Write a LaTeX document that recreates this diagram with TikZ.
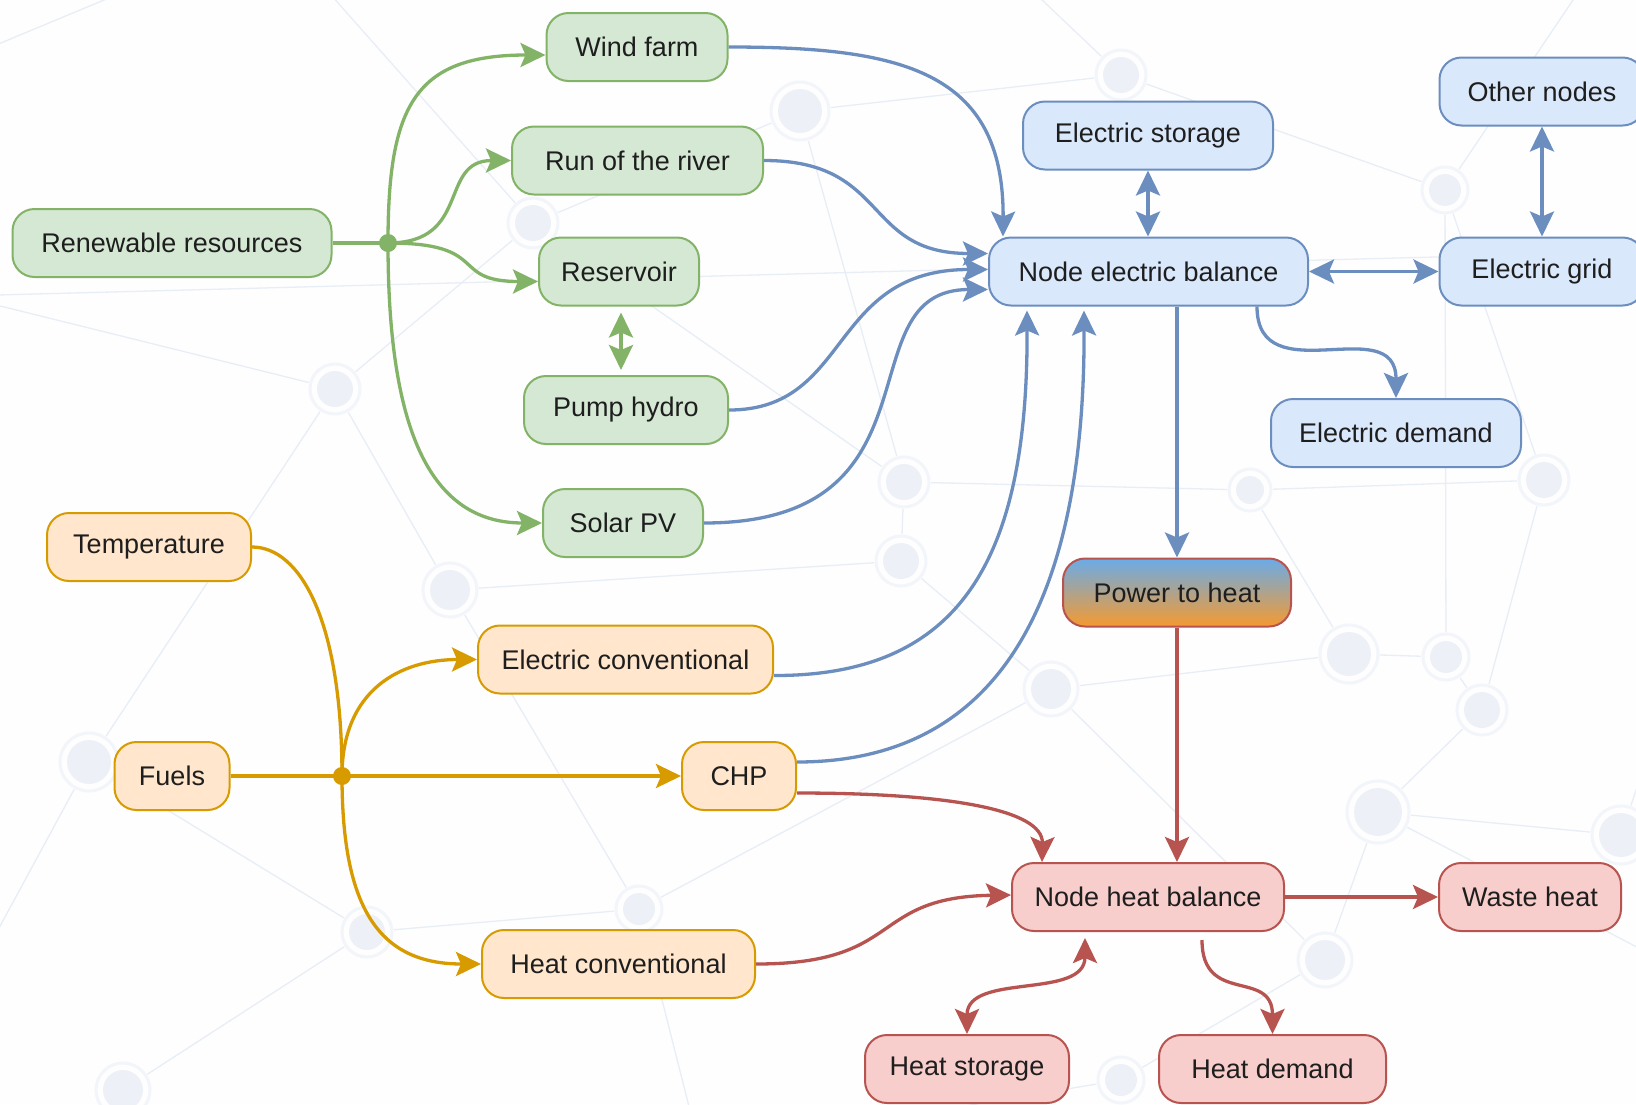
\documentclass[tikz,border=0pt]{standalone}
\usepackage{fontspec}
\setmainfont{Liberation Sans}
\usetikzlibrary{arrows.meta,calc}

\definecolor{gfill}{HTML}{D5E8D4}\definecolor{gline}{HTML}{82B366}
\definecolor{bfill}{HTML}{DAE8FC}\definecolor{bline}{HTML}{6C8EBF}
\definecolor{ofill}{HTML}{FFE6CC}\definecolor{oline}{HTML}{D79B00}
\definecolor{rfill}{HTML}{F8CECC}\definecolor{rline}{HTML}{B85450}
\definecolor{ptop}{HTML}{6AABE8}\definecolor{pbot}{HTML}{F59A30}
\definecolor{netc}{HTML}{E8EEF5}\definecolor{netdot}{HTML}{EDF1F7}\definecolor{netring}{HTML}{F2F5F9}
\definecolor{txt}{HTML}{1E1E1E}

\tikzset{
  box/.style={draw, rounded corners=22pt, minimum height=68pt, line width=2pt,
              inner sep=0pt, text=txt, font=\fontsize{27}{32}\selectfont},
  gbox/.style={box, fill=gfill, draw=gline},
  bbox/.style={box, fill=bfill, draw=bline},
  obox/.style={box, fill=ofill, draw=oline},
  rbox/.style={box, fill=rfill, draw=rline},
  head/.tip={Stealth[length=25pt,width=24pt,inset=5pt]},
  wire/.style={line width=3.3pt},
  flow/.style={wire, -head},
  flowtwo/.style={wire, head-head},
  netline/.style={draw=netc, line width=1.3pt},
}

\begin{document}
\begin{tikzpicture}[x=1pt,y=-1pt]
\clip (0,0) rectangle (1636,1104);
\fill[white!97!netc] (0,0) rectangle (1636,1104);

% faint network in the background
\foreach \n/\x/\y in {a/800/111, b/533/223, c/335/389, d/450/590, e/904/482, f/901/561,
  g/1051/689, h/1349/654, i/1378/812, j/1482/710, k/1446/657, l/1621/835, m/89/762,
  n/367/932, o/639/909, p/1544/480, q/1121/75, r/1445/190, s/1325/960, t/123/1090,
  u/1121/1080, v/1250/490, w/300/-40, x/-40/296, y/1700/250, z/-40/60, A/200/-40,
  B/1700/600, C/700/1150, D/-40/1000, E/1000/-40, F/1700/980, G/1600/-40}
  \coordinate (bg\n) at (\x,\y);
\foreach \p/\q in {z/A, x/y, a/b, b/c, c/d, d/f, f/e, e/a, a/q, q/r, r/p, p/v, v/h,
  h/k, k/j, j/i, i/l, l/B, h/g, g/f, g/o, o/n, n/m, m/c, m/D, n/t, o/C, g/s, s/u, s/i,
  i/F, e/v, q/E, r/G, w/b, d/o, c/x, j/p, u/C, b/e, k/r}
  \path[netline] (bg\p) -- (bg\q);
\foreach \n/\r in {a/22, b/18, c/18, d/20, e/18, f/18, g/20, h/22, i/24, j/18, k/16, l/22,
  m/22, n/18, o/16, p/18, q/18, r/16, s/20, t/20, u/16, v/14} {
  \fill[white!97!netc] (bg\n) circle ({\r pt + 9pt});
  \draw[netring, line width=3pt] (bg\n) circle ({\r pt + 7pt});
  \fill[netdot] (bg\n) circle (\r pt);
}

% renewable sources
\node[gbox, minimum width=319pt] (ren)   at (172,243)   {Renewable resources};
\node[gbox, minimum width=181pt] (wind)  at (637,47)    {Wind farm};
\node[gbox, minimum width=251pt] (run)   at (637.5,160.5) {Run of the river};
\node[gbox, minimum width=160pt] (res)   at (619,271.5) {Reservoir};
\node[gbox, minimum width=204pt] (pump)  at (626,410)   {Pump hydro};
\node[gbox, minimum width=160pt] (solar) at (623,523)   {Solar PV};

% fuel based sources
\node[obox, minimum width=204pt] (temp)  at (149,547)   {Temperature};
\node[obox, minimum width=295pt] (econv) at (625.5,659.5) {Electric conventional};
\node[obox, minimum width=115pt] (fuels) at (172,776)   {Fuels};
\node[obox, minimum width=114pt] (chp)   at (739,776)   {CHP};
\node[obox, minimum width=273pt] (hconv) at (618.5,964) {Heat conventional};

% electricity side
\node[bbox, minimum width=250pt] (estor)  at (1148,135.5) {Electric storage};
\node[bbox, minimum width=205pt] (others) at (1542,91.5)  {Other nodes};
\node[bbox, minimum width=319pt] (neb)    at (1148.5,271.5) {Node electric balance};
\node[bbox, minimum width=205pt] (grid)   at (1542,271.5) {Electric grid};
\node[bbox, minimum width=250pt] (edem)   at (1396,433)   {Electric demand};

% coupling and heat side
\node[box, draw=rline, top color=ptop, bottom color=pbot, minimum width=228pt] (p2h) at (1177,592.5) {Power to heat};
\node[rbox, minimum width=272pt] (nhb)   at (1148,897)   {Node heat balance};
\node[rbox, minimum width=182pt] (waste) at (1530,897)   {Waste heat};
\node[rbox, minimum width=204pt] (hstor) at (967,1069)   {Heat storage};
\node[rbox, minimum width=227pt] (hdem)  at (1272.5,1069) {Heat demand};

% renewable resources branch out
\coordinate (J) at (388,243);
\draw[wire, gline] (ren.east) -- (J);
\draw[flow, gline] (J) .. controls (388,105) and (415,55) .. ([yshift=-8pt]wind.west);
\draw[flow, gline] (J) .. controls (472,243) and (438,160.5) .. (run.west);
\draw[flow, gline] (J) .. controls (492,243) and (448,281.5) .. ([yshift=-10pt]res.west);
\draw[flow, gline] (J) .. controls (388,430) and (430,523) .. (solar.west);
\fill[gline] (J) circle (9pt);
\coordinate (rs) at ([xshift=2pt,yshift=-6pt]res.south);
\coordinate (pn) at ([yshift=5pt]pump.north);
\draw[flowtwo, gline] (rs) -- (rs |- pn);

% into the electric balance
\draw[flow, bline] (wind.east) .. controls (900,47) and (1004,70) .. ([xshift=15pt]neb.north west);
\draw[flow, bline] (run.east) .. controls (890,160.5) and (862,253.5) .. ([yshift=18pt]neb.west);
\draw[flow, bline] (pump.east) .. controls (852,410) and (828,269.5) .. ([yshift=2pt]neb.west);
\draw[flow, bline] (solar.east) .. controls (950,523) and (842,289.5) .. ([yshift=-18pt]neb.west);
\draw[flow, bline] ([yshift=-16pt]econv.east) .. controls (960,676) and (1028,560) .. ([xshift=39pt,yshift=-4pt]neb.south west);
\draw[flow, bline] ([yshift=14pt]chp.east) .. controls (1000,762) and (1085,600) .. ([xshift=96pt,yshift=-4pt]neb.south west);
\draw[flowtwo, bline] (estor.south) -- (estor.south |- neb.north);
\draw[flowtwo, bline] (neb.east) -- (grid.west);
\draw[flowtwo, bline] (others.south) -- (grid.north);
\draw[flow, bline] ([xshift=-52pt]neb.south east) .. controls +(0,88) and +(0,-88) .. (edem.north);
\draw[flow, bline] (neb.south -| p2h.north) -- (p2h.north);

% into the heat balance
\draw[flow, rline] (p2h.south) -- (p2h.south |- nhb.north);
\draw[flow, rline] ([yshift=-17pt]chp.east) .. controls (950,793) and (1043,810) .. ([xshift=31pt]nhb.north west);
\draw[flow, rline] (hconv.east) .. controls (905,964) and (868,897) .. ([yshift=2pt]nhb.west);
\draw[flow, rline] (nhb.east) -- (waste.west);
\draw[flowtwo, rline] ([xshift=-63pt,yshift=-6pt]nhb.south) .. controls +(0,62) and +(0,-62) .. (hstor.north);
\draw[flow, rline] ([xshift=54pt,yshift=-8pt]nhb.south) .. controls +(0,66) and +(0,-66) .. (hdem.north);

% fuels and temperature
\coordinate (K) at (342,776);
\draw[wire, oline] (temp.east) .. controls (300,547) and (342,620) .. (K);
\draw[flow, oline] (fuels.east) -- (chp.west);
\draw[flow, oline] (K) .. controls (342,690) and (400,659.5) .. (econv.west);
\draw[flow, oline] (K) .. controls (342,910) and (380,964) .. (hconv.west);
\fill[oline] (K) circle (9pt);
\end{tikzpicture}
\end{document}
